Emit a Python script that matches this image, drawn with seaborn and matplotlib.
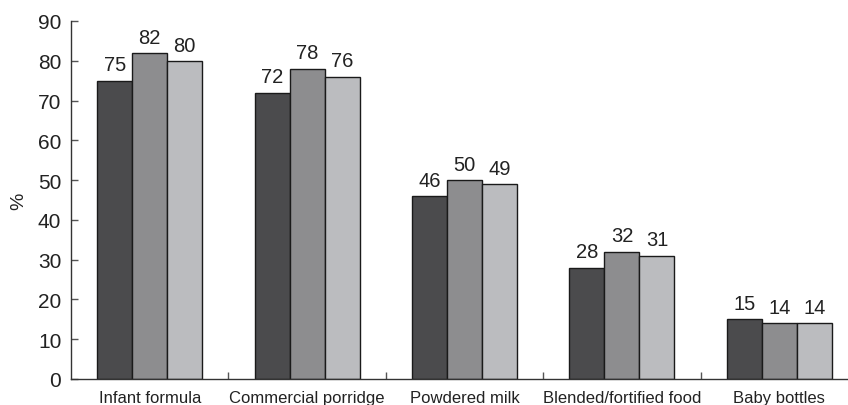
import matplotlib
matplotlib.use("Agg")
import matplotlib.pyplot as plt
import seaborn as sns
import pandas as pd
import numpy as np

categories = ["Infant formula", "Commercial porridge", "Powdered milk",
              "Blended/fortified food", "Baby bottles"]
series_names = ["Group 1", "Group 2", "Group 3"]
values_1 = [75, 72, 46, 28, 15]
values_2 = [82, 78, 50, 32, 14]
values_3 = [80, 76, 49, 31, 14]
y_ticks = [0, 10, 20, 30, 40, 50, 60, 70, 80, 90]

colors = ["#4b4b4d", "#8d8d8f", "#bbbcbf"]

df = pd.DataFrame({
    "category": categories * 3,
    "series": [s for s in series_names for _ in categories],
    "value": values_1 + values_2 + values_3,
})

sns.set_style("white")
plt.rcParams["font.family"] = ["Liberation Sans", "DejaVu Sans"]

fig = plt.figure(figsize=(8.48, 4.06), dpi=100)
ax = fig.add_axes([71 / 848, 26 / 406, 776 / 848, 358 / 406])

sns.barplot(data=df, x="category", y="value", hue="series",
            order=categories, hue_order=series_names,
            palette=colors, width=0.667, gap=0,
            edgecolor="#1a1a1a", linewidth=1.0, saturation=1,
            errorbar=None, legend=False, ax=ax)

for container in ax.containers:
    ax.bar_label(container, fmt="%d", padding=4.5, fontsize=14.5, color="#222222")

ax.set_ylim(0, 90)
ax.set_xlim(-0.5, 4.43)
ax.set_yticks(y_ticks)
ax.set_ylabel("%", fontsize=14, color="#222222")
ax.yaxis.set_label_coords(-0.056, 0.5)
ax.set_xlabel("")

# category boundaries as small inward minor ticks
ax.set_xticks(np.arange(0.5, len(categories) - 0.5, 1.0), minor=True)
ax.tick_params(axis="x", which="major", length=0, labelsize=12,
               colors="#222222", pad=8)
ax.tick_params(axis="x", which="minor", direction="in", length=5,
               width=1, color="#555555", bottom=True)
ax.tick_params(axis="y", direction="in", length=5, width=1,
               color="#555555", labelsize=15, labelcolor="#222222", pad=7,
               left=True)

for side in ["top", "right"]:
    ax.spines[side].set_visible(False)
for side in ["left", "bottom"]:
    ax.spines[side].set_color("#333333")
    ax.spines[side].set_linewidth(1.0)

fig.savefig("out.png", dpi=100)
